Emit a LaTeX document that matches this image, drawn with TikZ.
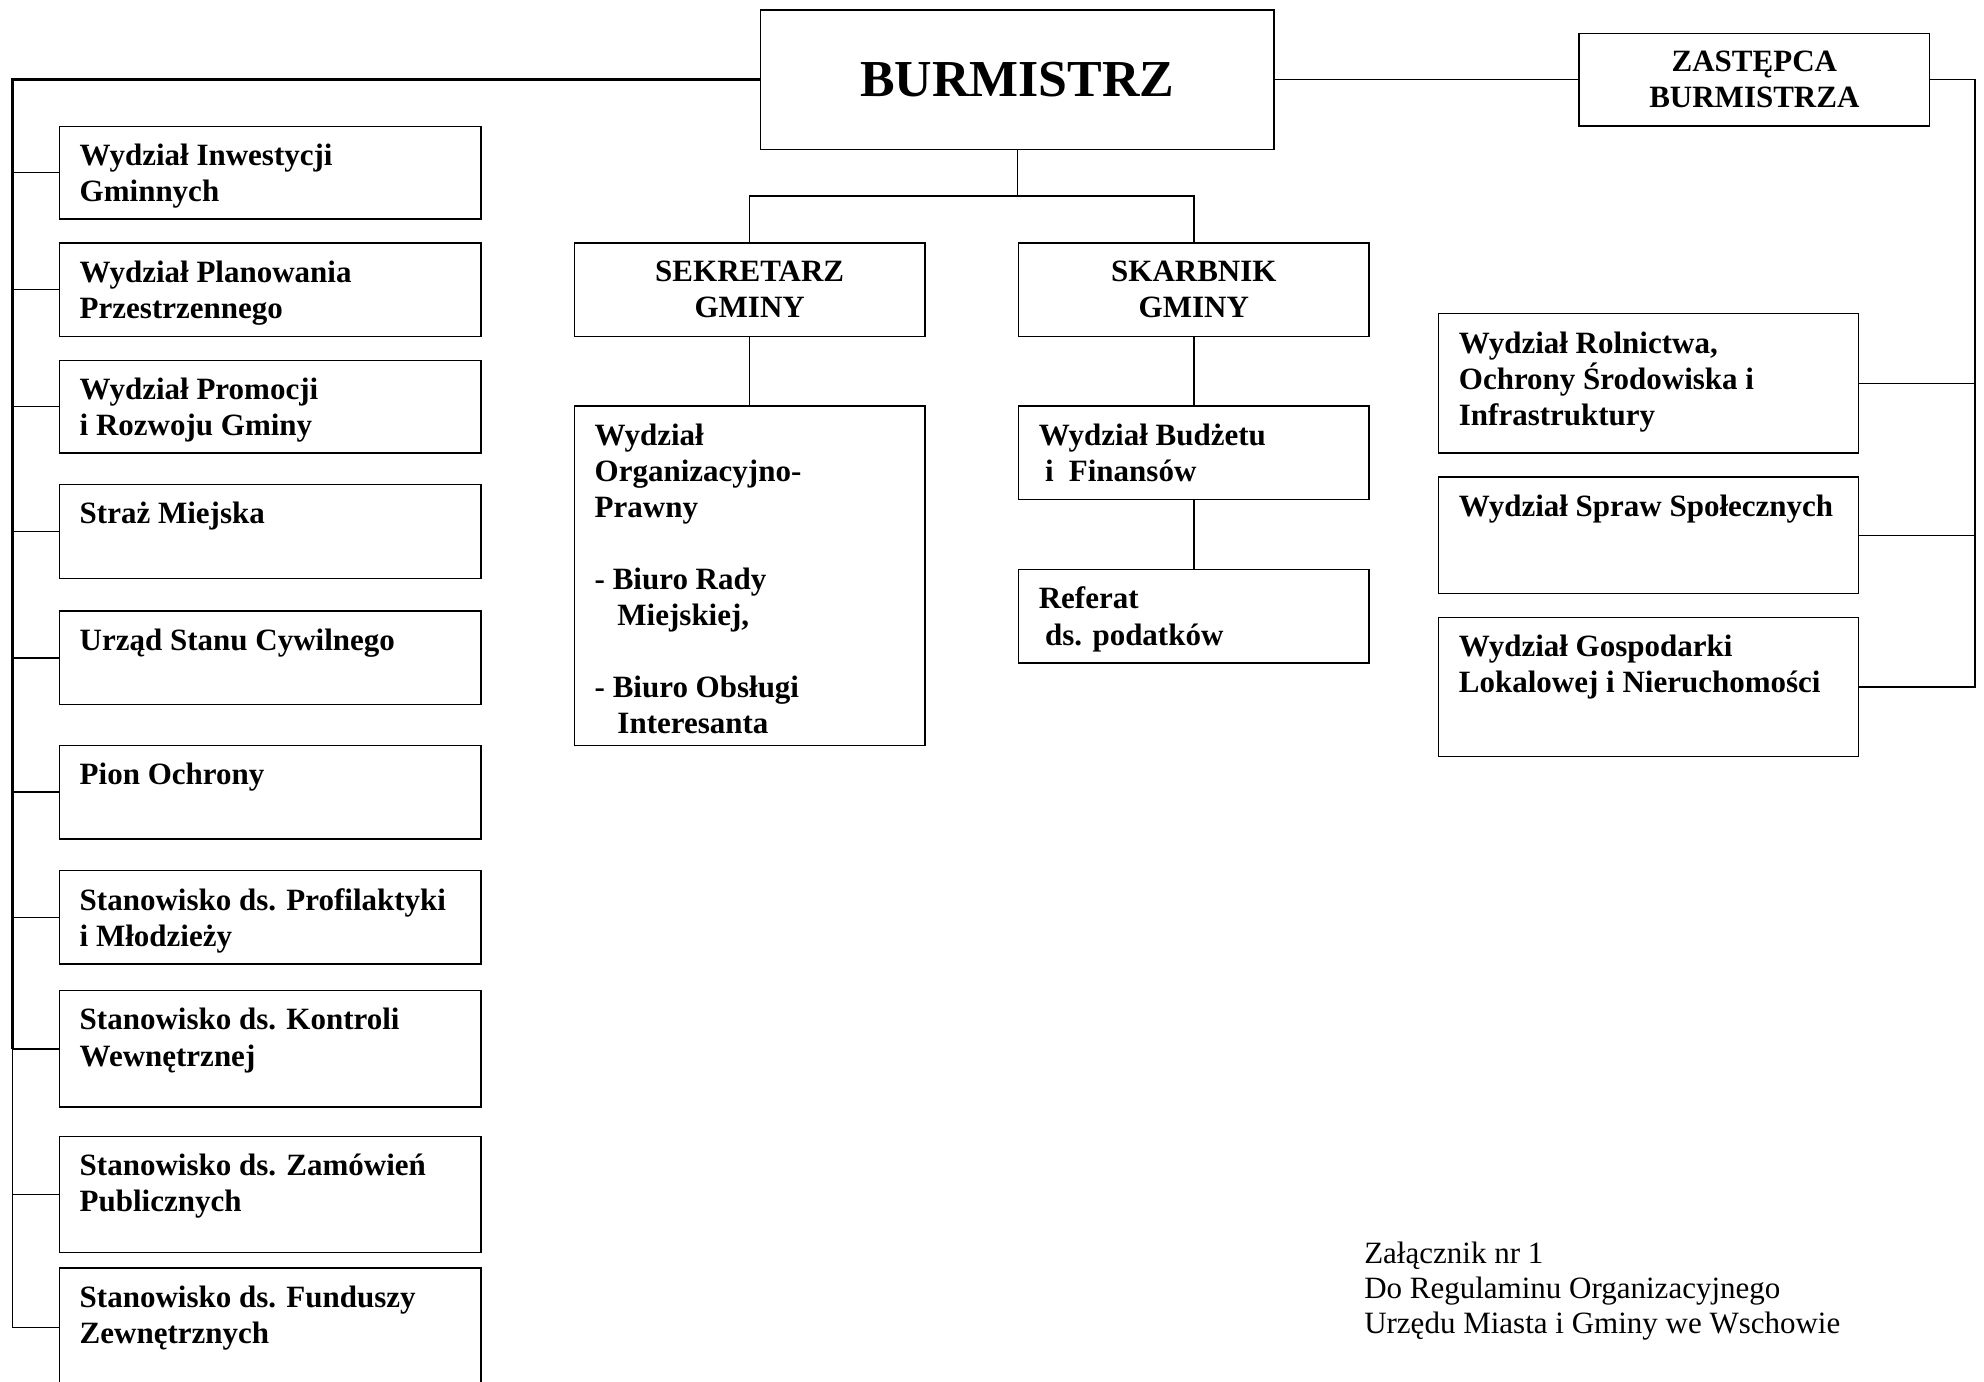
\documentclass[tikz,border=0pt]{standalone}
\usepackage{fontspec}
\setmainfont{Liberation Serif}
\usetikzlibrary{positioning}
\tikzset{
  box/.style={draw,line width=1.1pt,inner xsep=16pt,inner ysep=14pt,outer sep=0pt,font=\fontsize{24.5}{28.5}\selectfont\bfseries},
  head/.style={draw,line width=1.1pt,align=center,minimum width=277pt,minimum height=74pt,outer sep=0pt,font=\fontsize{24.5}{28.5}\selectfont\bfseries},
  note/.style={align=left,inner sep=0pt,font=\fontsize{24.5}{28}\selectfont},
  link/.style={line width=1.1pt},
  trunk/.style={line width=2.4pt}
}
\newcommand{\inbox}[3]{\parbox[t][#2pt][t]{#1pt}{\raggedright #3}}

\begin{document}
\begin{tikzpicture}[x=1pt,y=-1pt]
\clip (0,0) rectangle (1568,1092);
% top
\node[head,minimum width=406pt,minimum height=110pt,font=\fontsize{41}{48}\selectfont\bfseries](burm) at (804,63){BURMISTRZ};
\node[head,minimum height=73pt](zast) at (1386.5,63){ZASTĘPCA\\BURMISTRZA};
% middle
\node[head](sek) at (592.5,229){SEKRETARZ\\GMINY};
\node[head,right=74pt of sek](skarb){SKARBNIK\\GMINY};
\node[box,below=55pt of sek](org){\inbox{245}{240}{Wydział\\Organizacyjno-\\Prawny\\[28.5pt]- Biuro Rady\\\hspace*{18pt}Miejskiej,\\[28.5pt]- Biuro Obsługi\\\hspace*{18pt}Interesanta}};
\node[box,below=55pt of skarb](budz){\inbox{245}{46}{Wydział Budżetu\\\hspace*{5pt}i\hspace{12pt}Finansów}};
\node[box,below=55pt of budz](ref){\inbox{245}{46}{Referat\\\hspace*{5pt}ds. podatków}};
% left column
\node[box,anchor=north west](inw) at (47,100){\inbox{301}{45}{Wydział Inwestycji\\Gminnych}};
\node[box,below=19pt of inw](plan){\inbox{301}{46}{Wydział Planowania\\Przestrzennego}};
\node[box,below=19pt of plan](prom){\inbox{301}{45}{Wydział Promocji\\i Rozwoju Gminy}};
\node[box,below=25pt of prom](straz){\inbox{301}{46}{Straż Miejska}};
\node[box,below=26pt of straz](usc){\inbox{301}{46}{Urząd Stanu Cywilnego}};
\node[box,below=32pt of usc](pion){\inbox{301}{46}{Pion Ochrony}};
\node[box,below=25pt of pion](prof){\inbox{301}{46}{Stanowisko ds. Profilaktyki\\i Młodzieży}};
\node[box,below=21pt of prof](kontr){\inbox{301}{64}{Stanowisko ds. Kontroli\\Wewnętrznej}};
\node[box,below=23pt of kontr](zam){\inbox{301}{64}{Stanowisko ds. Zamówień\\Publicznych}};
\node[box,below=12pt of zam](fund){\inbox{301}{66}{Stanowisko ds. Funduszy\\Zewnętrznych}};
% right column
\node[box,anchor=north west](rol) at (1137,248){\inbox{300}{82}{Wydział Rolnictwa,\\Ochrony Środowiska i\\Infrastruktury}};
\node[box,below=19pt of rol](spol){\inbox{300}{64}{Wydział Spraw Społecznych}};
\node[box,below=19pt of spol](gosp){\inbox{300}{82}{Wydział Gospodarki\\Lokalowej i Nieruchomości}};
\node[note,anchor=north west](zal) at (1078,981){Załącznik nr 1\\Do Regulaminu Organizacyjnego\\Urzędu Miasta i Gminy we Wschowie};
% lines
\coordinate (lt) at (10,63);
\coordinate (rt) at (1561,63);
\coordinate (mid) at (804,155);
\draw[trunk] (burm.west) -- (lt) -- (lt |- kontr.west);
\draw[link] (lt |- kontr.west) -- (lt |- fund.west) -- (fund.west);
\draw[link] (lt |- inw.west) -- (inw.west);
\draw[link] (lt |- plan.west) -- (plan.west);
\draw[link] (lt |- prom.west) -- (prom.west);
\draw[link] (lt |- straz.west) -- (straz.west);
\draw[link] (lt |- usc.west) -- (usc.west);
\draw[link] (lt |- pion.west) -- (pion.west);
\draw[link] (lt |- prof.west) -- (prof.west);
\draw[link] (lt |- kontr.west) -- (kontr.west);
\draw[link] (lt |- zam.west) -- (zam.west);
\draw[link] (burm) -- (zast);
\draw[link] (zast.east) -| (rt |- gosp.east) -- (gosp.east);
\draw[link] (rol.east) -- (rt |- rol.east);
\draw[link] (spol.east) -- (rt |- spol.east);
\draw[link] (burm.south) -- (mid);
\draw[link] (sek.north) |- (mid) -| (skarb.north);
\draw[link] (sek) -- (org);
\draw[link] (skarb) -- (budz);
\draw[link] (budz) -- (ref);
\end{tikzpicture}
\end{document}
